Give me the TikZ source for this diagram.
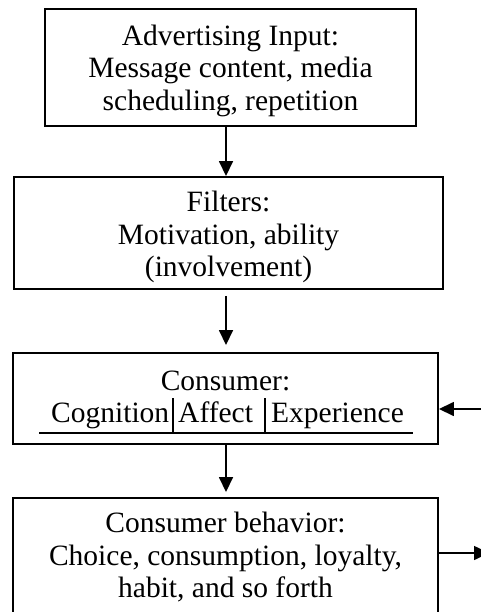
\documentclass[tikz,border=0pt]{standalone}
\usepackage{fontspec}
\setmainfont{Liberation Serif}
\usetikzlibrary{arrows.meta}
\newcommand{\topstrut}[1]{\rule{0pt}{#1}}
\newcommand{\botstrut}{\rule[-7pt]{0pt}{7pt}}
\tikzset{
  box/.style={draw, line width=1.9pt, align=center, inner sep=0pt,
    font=\fontsize{29.5pt}{32.5pt}\selectfont},
  word/.style={inner sep=0pt, anchor=base west,
    font=\fontsize{29.5pt}{32.5pt}\selectfont},
  arr/.style={line width=1.6pt, -{Triangle[length=15pt,width=14pt]}},
  thin/.style={line width=1.6pt}
}
\begin{document}
\begin{tikzpicture}[x=1pt,y=-1pt]
\useasboundingbox (0,0) rectangle (481,612);
\clip (0,0) rectangle (481,612);
\fill[white] (0,0) rectangle (481,612);

\node[box, minimum width=371pt, minimum height=117pt] (box1) at (230.5,67.5)
  {\topstrut{28pt}Advertising Input:\\Message content, media\\scheduling, repetition\botstrut};
\node[box, minimum width=429pt, minimum height=112pt] (box2) at (228.5,233)
  {\topstrut{29pt}Filters:\\Motivation, ability\\(involvement)\botstrut};
\node[box, minimum width=425pt, minimum height=91pt] (box3) at (225.5,398.5) {};
\node[inner sep=0pt, anchor=base, font=\fontsize{29.5pt}{32.5pt}\selectfont] (ctitle) at (225.5,390) {Consumer:};
\node[word] (cog) at (51,422) {Cognition};
\node[word] (aff) at (178,422) {Affect};
\node[word] (exp) at (271,422) {Experience};
\coordinate (ul) at (39,433);
\coordinate (ur) at (413,433);
\coordinate (b1) at (173,398);
\coordinate (b2) at (265,398);
\draw[thin] (ul) -- (ur);
\draw[thin] (b1) -- (b1 |- ul);
\draw[thin] (b2) -- (b2 |- ul);

\node[box, minimum width=425pt, minimum height=117pt] (box4) at (225.5,556.5)
  {\topstrut{24pt}Consumer behavior:\\Choice, consumption, loyalty,\\habit, and so forth\botstrut};

\coordinate (ax) at (226,0);
\draw[arr] (box1.south -| ax) -- (box2.north -| ax);
\draw[arr, shorten <=6pt, shorten >=7pt] (box2.south -| ax) -- (box3.north -| ax);
\draw[arr, shorten >=5pt] (box3.south -| ax) -- (box4.north -| ax);

\coordinate (fb) at (485,409);
\draw[arr] (fb) -- (box3.east |- fb);
\coordinate (out) at (489,553);
\draw[arr] (box4.east |- out) -- (out);
\end{tikzpicture}
\end{document}
